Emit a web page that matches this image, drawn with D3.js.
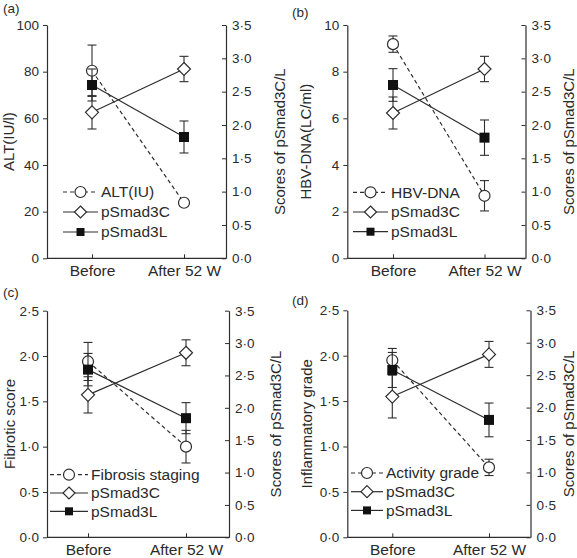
<!DOCTYPE html>
<html><head><meta charset="utf-8">
<script src="https://cdn.jsdelivr.net/npm/d3@7"></script>
<style>
body{margin:0;background:#fff}
svg{display:block}
text{font-family:"Liberation Sans",Arial,Helvetica,sans-serif;fill:#2a2a2a}
</style>
</head><body>
<svg id="chart" width="577" height="558"></svg>
<script>
// ---------- data ----------
const categories = ["Before", "After 52 W"];
const panelLabels = ["(a)", "(b)", "(c)", "(d)"];
const leftTitles = ["ALT(IU/l)", "HBV-DNA(LC/ml)", "Fibrotic score", "Inflammatory grade"];
const rightTitle = "Scores of pSmad3C/L";
const primaryNames = ["ALT(IU)", "HBV-DNA", "Fibrosis staging", "Activity grade"];
const seriesNames = ["pSmad3C", "pSmad3L"];

const leftTicksA = [0, 20, 40, 60, 80, 100];
const leftTicksB = [0, 2, 4, 6, 8, 10];
const leftTicksC = [0, 0.5, 1, 1.5, 2, 2.5];
const leftTicksD = [0, 0.5, 1, 1.5, 2, 2.5];
const rightTicks = [0, 0.5, 1, 1.5, 2, 2.5, 3, 3.5];

// primary (left axis) series
const altMean = [80.4, 23.8],  altErr = [11, 1.5];
const hbvMean = [9.18, 2.68],  hbvErr = [0.35, 0.65];
const fibMean = [1.94, 1.0],   fibErr = [0.21, 0.18];
const actMean = [1.95, 0.77],  actErr = [0.13, 0.09];

// right axis series
const smad3C_a = [2.19, 2.84], smad3C_a_err = [0.25, 0.19];
const smad3L_a = [2.60, 1.82], smad3L_a_err = [0.24, 0.24];
const smad3C_b = [2.18, 2.84], smad3C_b_err = [0.24, 0.19];
const smad3L_b = [2.60, 1.81], smad3L_b_err = [0.245, 0.265];
const smad3C_c = [2.20, 2.85], smad3C_c_err = [0.28, 0.20];
const smad3L_c = [2.59, 1.84], smad3L_c_err = [0.25, 0.24];
const smad3C_d = [2.17, 2.82], smad3C_d_err = [0.33, 0.20];
const smad3L_d = [2.58, 1.81], smad3L_d_err = [0.27, 0.26];

// ---------- layout ----------
const layouts = [
  {left: 47, right: 226, top: 25, bottom: 258.3, xr: [92, 184], lbl: [3, 13], lt: 14, rt: 285, leg: [63, 98, 192, 20], leftMax: 100, leftTicks: leftTicksA, fmt: d => String(d)},
  {left: 347.3, right: 525.5, top: 25, bottom: 258.3, xr: [393, 484.5], lbl: [292, 17], lt: 311, rt: 574, leg: [353, 388, 192.3, 19.7], leftMax: 10, leftTicks: leftTicksB, fmt: d => String(d)},
  {left: 47, right: 229, top: 310.7, bottom: 537.3, xr: [88, 186], lbl: [3, 297], lt: 15, rt: 281, leg: [50, 88, 474.7, 18.3], leftMax: 2.5, leftTicks: leftTicksC, fmt: d => d.toFixed(1).replace(".", "\u00b7")},
  {left: 347.3, right: 530.5, top: 310.3, bottom: 537.3, xr: [392.3, 489], lbl: [292, 305], lt: 312, rt: 574, leg: [351, 383, 473, 18.7], leftMax: 2.5, leftTicks: leftTicksD, fmt: d => d.toFixed(1).replace(".", "\u00b7")}
];

const primary = [
  {mean: altMean, err: altErr}, {mean: hbvMean, err: hbvErr},
  {mean: fibMean, err: fibErr}, {mean: actMean, err: actErr}
];
const smadC = [
  {mean: smad3C_a, err: smad3C_a_err}, {mean: smad3C_b, err: smad3C_b_err},
  {mean: smad3C_c, err: smad3C_c_err}, {mean: smad3C_d, err: smad3C_d_err}
];
const smadL = [
  {mean: smad3L_a, err: smad3L_a_err}, {mean: smad3L_b, err: smad3L_b_err},
  {mean: smad3L_c, err: smad3L_c_err}, {mean: smad3L_d, err: smad3L_d_err}
];

const ink = "#2e2e2e";
const svg = d3.select("#chart");
const rfmt = d => d.toFixed(1).replace(".", "\u00b7");

function marker(g, type, x, y, big) {
  if (type === "circle") {
    g.append("circle").attr("cx", x).attr("cy", y).attr("r", 5.5)
      .attr("fill", "#fff").attr("stroke", ink).attr("stroke-width", 1.2);
  } else if (type === "diamond") {
    const s = big ? 6.5 : 6;
    g.append("path").attr("d", `M${x},${y - s}L${x + s},${y}L${x},${y + s}L${x - s},${y}Z`)
      .attr("fill", "#fff").attr("stroke", ink).attr("stroke-width", 1.2);
  } else {
    const s = big ? 10 : 8;
    g.append("rect").attr("x", x - s / 2).attr("y", y - s / 2).attr("width", s).attr("height", s)
      .attr("fill", "#111");
  }
}

layouts.forEach((L, i) => {
  const g = svg.append("g");
  const x = d3.scalePoint().domain(categories).range(L.xr);
  const yL = d3.scaleLinear().domain([0, L.leftMax]).range([L.bottom, L.top]);
  const yR = d3.scaleLinear().domain([0, 3.5]).range([L.bottom, L.top]);

  const ga = g.append("g").attr("transform", `translate(${L.left},0)`)
    .call(d3.axisLeft(yL).tickValues(L.leftTicks).tickFormat(L.fmt).tickSize(4).tickSizeOuter(0).tickPadding(4));
  const gr = g.append("g").attr("transform", `translate(${L.right},0)`)
    .call(d3.axisRight(yR).tickValues(rightTicks).tickFormat(rfmt).tickSize(-4).tickSizeOuter(0).tickPadding(6));
  const gb = g.append("g").attr("transform", `translate(0,${L.bottom})`)
    .call(d3.axisBottom(x).tickSize(-4).tickSizeOuter(0).tickPadding(7));
  gb.select(".domain").remove();
  g.append("line").attr("x1", L.left).attr("x2", L.right).attr("y1", L.bottom).attr("y2", L.bottom)
    .attr("stroke", ink).attr("stroke-width", 1.2);
  [ga, gr, gb].forEach(a => {
    a.selectAll(".domain").attr("stroke", ink).attr("stroke-width", 1.2);
    a.selectAll(".tick line").attr("stroke", ink);
    a.selectAll("text").attr("font-size", 13.5).attr("fill", "#2a2a2a")
      .style("font-family", '"Liberation Sans",Arial,sans-serif');
  });
  gb.selectAll("text").attr("font-size", 15.5);

  const cy = (L.top + L.bottom) / 2;
  g.append("text").attr("transform", `translate(${L.lt},${cy}) rotate(-90)`)
    .attr("text-anchor", "middle").attr("font-size", 15).text(leftTitles[i]);
  g.append("text").attr("transform", `translate(${L.rt},${cy}) rotate(-90)`)
    .attr("text-anchor", "middle").attr("font-size", 15).text(rightTitle);
  g.append("text").attr("x", L.lbl[0]).attr("y", L.lbl[1]).attr("font-size", 13.5).text(panelLabels[i]);

  const series = [
    {d: primary[i], y: yL, type: "circle", dash: "4,3"},
    {d: smadC[i], y: yR, type: "diamond", dash: null},
    {d: smadL[i], y: yR, type: "square", dash: null}
  ];
  series.forEach(s => {
    const sg = g.append("g");
    const pts = categories.map((c, k) => ({x: x(c), m: s.d.mean[k], e: s.d.err[k]}));
    sg.append("path").datum(pts)
      .attr("d", d3.line().x(p => p.x).y(p => s.y(p.m)))
      .attr("fill", "none").attr("stroke", ink).attr("stroke-width", 1.2)
      .attr("stroke-dasharray", s.dash);
    pts.forEach(p => {
      const y1 = s.y(p.m - p.e), y2 = s.y(p.m + p.e);
      sg.append("line").attr("x1", p.x).attr("x2", p.x).attr("y1", y1).attr("y2", y2)
        .attr("stroke", ink).attr("stroke-width", 1.1);
      [y1, y2].forEach(yy => sg.append("line").attr("x1", p.x - 4.5).attr("x2", p.x + 4.5)
        .attr("y1", yy).attr("y2", yy).attr("stroke", ink).attr("stroke-width", 1.1));
      marker(sg, s.type, p.x, s.y(p.m), true);
    });
  });

  const [lx0, lx1, ly0, ldy] = L.leg;
  const names = [primaryNames[i]].concat(seriesNames);
  const types = ["circle", "diamond", "square"];
  names.forEach((n, k) => {
    const yy = ly0 + k * ldy;
    const lg = g.append("g");
    lg.append("line").attr("x1", lx0).attr("x2", lx1).attr("y1", yy).attr("y2", yy)
      .attr("stroke", ink).attr("stroke-width", 1.2).attr("stroke-dasharray", k === 0 ? "4,3" : null);
    marker(lg, types[k], (lx0 + lx1) / 2, yy, false);
    lg.append("text").attr("x", lx1 + 3).attr("y", yy).attr("dy", "0.35em")
      .attr("font-size", 15.5).text(n);
  });
});
</script>
</body></html>
